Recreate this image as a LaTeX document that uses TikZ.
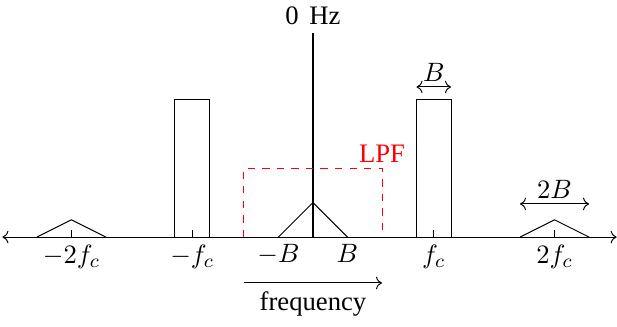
\documentclass[tikz,border=0pt]{standalone}
\usepackage[no-math]{fontspec}
\setmainfont{Liberation Serif}
\usetikzlibrary{calc, arrows.meta}

\begin{document}
\begin{tikzpicture}[
  x=0.5cm, y=0.5cm,
  font=\fontsize{11}{13}\selectfont,
  band/.style={<->},
  lpf/.style={red, dashed},
  tick/.style={below, inner sep=3pt},
]
\useasboundingbox (-9.07,-2.58) rectangle (8.81,6.87);

% frequency axis
\coordinate (L) at (-9, 0);
\coordinate (R) at (8.8, 0);
\draw[band] (L) -- (R);

% ticks and labels
\foreach \x/\name/\lab in {-7/m2fc/{$-2f_c$}, -3.5/mfc/{$-f_c$}, 3.5/fc/{$f_c$}, 7/pfc/{$2f_c$}}{
  \draw (\x, 0) -- (\x, 0.2);
  \node[tick] (\name) at (\x, 0) {\lab};
}
\node[tick] (mB) at (-1, 0) {$-B$};
\node[tick] (pB) at (1, 0) {$B$};

% DC line
\coordinate (O) at (0, 0);
\coordinate (Top) at (0, 5.9);
\draw[thick] (O) -- (Top);
\node[above] (hz) at (Top) {0\hspace{0.4em}Hz};

% baseband triangle
\draw (-1, 0) -- (0, 1) -- (1, 0);

% carriers at +-fc
\draw (-4, 0) |- (-3, 4) -- (-3, 0);
\draw (3, 0) |- (4, 4) -- (4, 0);

% images at +-2fc
\draw (-8, 0) -- (-7, 0.5) -- (-6, 0);
\draw (6, 0) -- (7, 0.5) -- (8, 0);

% width markers
\coordinate (B1) at (3, 4.35);
\coordinate (B2) at (4, 4.35);
\draw[band] (B1) -- (B2) node[midway, above, inner sep=2pt] (bw) {$B$};
\coordinate (W1) at (6, 0.96);
\coordinate (W2) at (8, 0.96);
\draw[band] (W1) -- (W2) node[midway, above, inner sep=2pt] (bw2) {$2B$};

% low pass filter
\draw[lpf] (-2, 0) |- (2, 2) -- (2, 0);
\node[above, red, inner sep=2pt] (lpfname) at (2, 2) {LPF};

% direction of frequency
\coordinate (F1) at (-2, -1.33);
\coordinate (F2) at (2, -1.33);
\draw[->] (F1) -- (F2) node[midway, below] (freq) {frequency};

\end{tikzpicture}
\end{document}
